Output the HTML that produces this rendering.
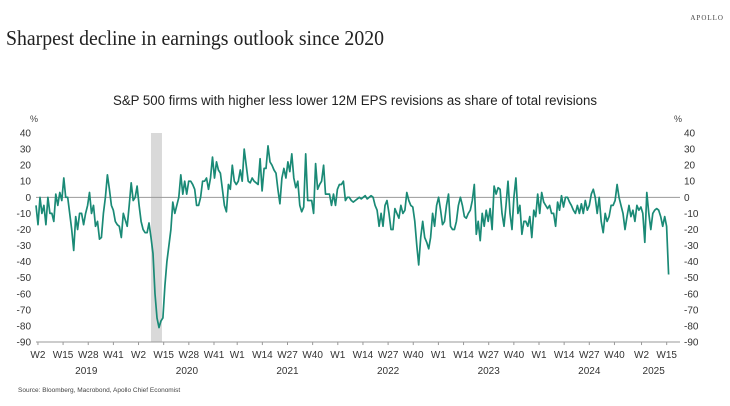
<!DOCTYPE html>
<html><head><meta charset="utf-8"><style>
html,body{margin:0;padding:0;background:#fff;}
svg{display:block;font-family:"Liberation Sans",sans-serif;}
</style></head><body>
<svg id="chart" width="730" height="406" viewBox="0 0 730 406">
<text x="724" y="20" text-anchor="end" font-family="Liberation Serif,serif" font-size="7" letter-spacing="1" fill="#444">APOLLO</text>
<text x="6" y="45" font-family="Liberation Serif,serif" font-size="21" fill="#222" textLength="378" lengthAdjust="spacingAndGlyphs">Sharpest decline in earnings outlook since 2020</text>
<text x="113" y="105" font-size="13.5" fill="#222" textLength="484" lengthAdjust="spacingAndGlyphs">S&amp;P 500 firms with higher less lower 12M EPS revisions as share of total revisions</text>
<text x="30" y="122" font-size="9" fill="#444">%</text>
<text x="674" y="122" font-size="9" fill="#444">%</text>
<text x="18" y="392" font-size="6.5" fill="#444">Source: Bloomberg, Macrobond, Apollo Chief Economist</text>
<g id="plot"></g>
</svg>
<script>
const values = [-5,-17,0,-10,-5,-17,0,-10,-10,-15,2,-5,3,-2,12,0,0,-10,-20,-33,-12,-20,-10,-10,-17,-10,-5,3,-10,-5,-18,-15,-26,-25,-10,0,14,5,-5,-8,-15,-17,-18,-25,-10,-14,-18,-5,9,-2,0,7,-5,-15,-20,-22,-22,-16,-25,-35,-60,-75,-81,-77,-75,-55,-40,-30,-20,-3,-10,-5,0,14,2,10,2,10,10,8,5,-5,-5,0,10,10,12,5,12,25,12,22,17,15,5,-5,-9,8,5,20,10,8,10,17,10,30,20,10,9,12,10,9,8,24,4,18,18,32,22,20,17,15,5,-4,12,18,12,22,16,27,12,6,10,-5,-9,-6,27,-2,-2,-2,-10,21,5,8,10,20,2,2,2,-5,2,-5,5,8,8,10,-2,0,0,-2,-3,-2,-1,0,-1,0,1,
-1,0,1,0,-5,-8,-18,-10,-18,-5,-2,-10,-20,-20,-7,-10,-13,-5,-10,-8,3,-2,-5,-6,-15,-30,-42,-25,-15,-25,-28,-32,-25,-10,-18,-5,0,-8,-17,-15,-5,2,-18,-20,-20,-15,-5,0,-5,-12,-13,-10,-8,-2,8,-23,-15,-27,-10,-18,-8,-15,-7,-20,7,2,6,5,-10,-18,-5,10,-10,-20,0,12,-10,-5,-23,-15,-15,-18,-12,-25,-8,-12,2,-10,3,-3,-5,-7,-5,-10,-10,-18,-3,-8,1,-6,0,0,-3,-5,-8,-10,-5,-10,-4,-10,-2,-8,-5,2,5,0,-10,0,-15,-22,-10,-15,-12,-5,-5,-2,8,0,-5,-10,-20,-12,-5,-12,-8,-15,-5,-8,-6,-10,-28,3,-10,-20,-10,-8,-7,-8,-12,-18,-12,-18,-48];
const yTicks = [40,30,20,10,0,-10,-20,-30,-40,-50,-60,-70,-80,-90];
const weekLabels = ["W2","W15","W28","W41","W2","W15","W28","W41","W1","W14","W27","W40","W1","W14","W27","W40","W1","W14","W27","W40","W1","W14","W27","W40","W2","W15"];
const weekYears = [2019,2019,2019,2019,2020,2020,2020,2020,2021,2021,2021,2021,2022,2022,2022,2022,2023,2023,2023,2023,2024,2024,2024,2024,2025,2025];
const weekNums = [2,15,28,41,2,15,28,41,1,14,27,40,1,14,27,40,1,14,27,40,1,14,27,40,2,15];
const yearLabels = ["2019","2020","2021","2022","2023","2024","2025"];
const yearCenters = [2019.5,2020.5,2021.5,2022.5,2023.5,2024.5,2025.14];
const shadeStart = 2020.143, shadeEnd = 2020.252;
const dataStart = 2019.0, dataEnd = 2025 + 15/52;

const NS="http://www.w3.org/2000/svg";
const g=document.getElementById('plot');
const X0=36, YPX=100.6, Y40=133, PPU=1.608;
function xScale(t){return X0+(t-2019)*YPX;}
function yScale(v){return Y40+(40-v)*PPU;}
function mk(tag,attrs,parent){const e=document.createElementNS(NS,tag);for(const k in attrs)e.setAttribute(k,attrs[k]);(parent||g).appendChild(e);return e;}

const sh=mk('rect',{x:xScale(shadeStart),y:yScale(40),width:xScale(shadeEnd)-xScale(shadeStart),height:yScale(-90)-yScale(40),fill:'#d9d9d9'});



const zl=mk('line',{x1:36,x2:680,y1:yScale(0),y2:yScale(0),stroke:'#999','stroke-width':1});


const ax=mk('line',{x1:36,x2:680,y1:yScale(-90),y2:yScale(-90),stroke:'#999','stroke-width':1});



yTicks.forEach(v=>{
  const l=mk('text',{x:31,y:yScale(v)+3.5,'text-anchor':'end','font-size':10,fill:'#333'});l.textContent=v;
  
  
  const r=mk('text',{x:684,y:yScale(v)+3.5,'font-size':10,fill:'#333'});r.textContent=v;
  
  
});

weekLabels.forEach((w,i)=>{
  const t=weekYears[i]+(weekNums[i]-1)/52;
  const tk=mk('line',{x1:xScale(t),x2:xScale(t),y1:yScale(-90),y2:yScale(-90)+3,stroke:'#999'});
  
  
  const l=mk('text',{x:xScale(t),y:358,'text-anchor':'middle','font-size':10,fill:'#333'});l.textContent=w;
  
  
});
yearLabels.forEach((y,i)=>{
  const l=mk('text',{x:xScale(yearCenters[i]),y:374,'text-anchor':'middle','font-size':10,fill:'#333'});l.textContent=y;
  
  
});

const n=values.length;
const pts=values.map((v,i)=>xScale(dataStart+(dataEnd-dataStart)*i/(n-1)).toFixed(1)+','+yScale(v).toFixed(1)).join(' ');
const pl=mk('polyline',{points:pts,fill:'none',stroke:'#1a8a76','stroke-width':1.7,'stroke-linejoin':'round'});


</script>
</body></html>
